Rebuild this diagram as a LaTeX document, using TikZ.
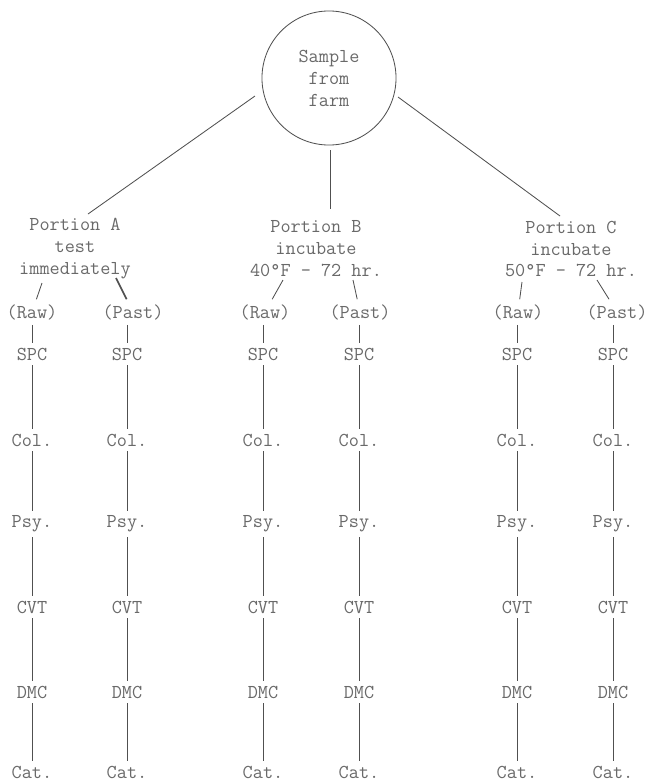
\documentclass[tikz,border=0pt]{standalone}
\usetikzlibrary{calc}
\definecolor{ink}{RGB}{105,105,105}
\definecolor{rule}{RGB}{80,80,80}

\begin{document}
\begin{tikzpicture}[x=0.025cm,y=-0.025cm,line width=0.6pt,color=rule,
  lab/.style={text=ink,font=\ttfamily\fontsize{14}{15.6}\selectfont,align=center}]
\useasboundingbox (0,0) rectangle (651,784);
% the farm sample and its three portions
\node[lab,draw=rule,circle,minimum size=3.35cm] (farm) at (329,78) {Sample\\from\\farm};
\node[lab] (pA) at (75,249) {Portion A\\test\\immediately};
\node[lab] (pB) at (316,249) {Portion B\\incubate\\40°F - 72 hr.};
\node[lab] (pC) at (571,249) {Portion C\\incubate\\50°F - 72 hr.};
\draw ($(farm)+(-74,18)$) -- ($(pA)+(13,-35)$);
\draw ($(farm)+(1,72)$) -- ($(pB)+(14,-40)$);
\draw ($(farm)+(69,19)$) -- ($(pC)+(-11,-33)$);
% one column of tests for each raw / pasteurized part
\foreach \c/\x/\hx/\h in {a1/32/32/Raw,a2/127/133/Past,b1/263/265/Raw,
    b2/359/360/Past,c1/517/518/Raw,c2/613/617/Past}{
  \node[lab] (\c h) at (\hx,312) {(\h)};
  \foreach \t/\y [count=\i] in {SPC/354,Col./440,Psy./524,CVT/607,DMC/692,Cat./772}
    \node[lab] (\c-\i) at (\x,\y) {\t};
  \draw (\c h.south -| \c-1) -- (\c-1);
  \foreach \i [count=\j from 2] in {1,...,5}
    \draw (\c-\i) -- (\c-\j);
}
% split of each portion
\draw ($(pA)+(-33,34)$) -- (a1h);
\draw[line width=1.2pt] ($(pA)+(41,29)$) -- (a2h);
\draw ($(pB)+(-33,31)$) -- (b1h);
\draw ($(pB)+(37,31)$) -- (b2h);
\draw ($(pC)+(-49,33)$) -- (c1h);
\draw ($(pC)+(26,31)$) -- (c2h);
\end{tikzpicture}
\end{document}
